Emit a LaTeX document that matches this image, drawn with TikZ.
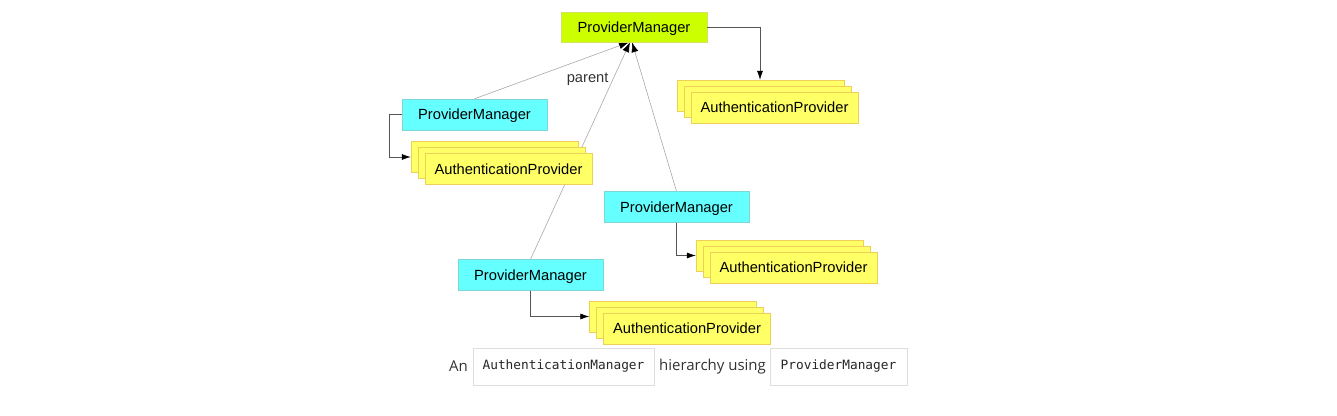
\documentclass[tikz,border=0pt]{standalone}
\usepackage{fontspec}
\setmainfont{Liberation Sans}
\newfontfamily\captionfont{Open Sans}
\setmonofont{DejaVu Sans Mono}
\usetikzlibrary{arrows.meta,shadows,backgrounds}

\definecolor{pmgreen}{HTML}{CCFF00}
\definecolor{pmgreenline}{HTML}{D6E066}
\definecolor{pmcyan}{HTML}{66FFFF}
\definecolor{pmcyanline}{HTML}{7FD6D6}
\definecolor{apyellow}{HTML}{FFFF66}
\definecolor{apyellowline}{HTML}{EDCF5A}
\definecolor{linkgray}{HTML}{A8A8A8}
\definecolor{connline}{HTML}{555555}

\begin{document}
\begin{tikzpicture}[x=1pt,y=-1pt,
  font=\fontsize{14.7}{17}\selectfont,
  boxtext/.style={text height=10.6pt, text depth=0pt, inner sep=0pt},
  rootbox/.style={boxtext, draw=pmgreenline, fill=pmgreen, minimum width=146pt, minimum height=30pt},
  mgrbox/.style={boxtext, draw=pmcyanline, fill=pmcyan, minimum width=145pt, minimum height=31pt},
  provbox/.style={boxtext, draw=apyellowline, fill=apyellow, minimum width=167pt, minimum height=31pt,
    double copy shadow={shadow xshift=-7pt, shadow yshift=6pt}},
  conn/.style={connline, line width=0.6pt, -{Latex[length=9pt,width=6pt,black]}},
  parentlink/.style={linkgray, line width=0.6pt, -{Latex[length=10pt,width=7pt,black]}},
  codebox/.style={draw=black!13, fill=white, minimum width=#1, minimum height=37pt, inner sep=0pt, text=black!85, font=\ttfamily\fontsize{12.8}{15}\selectfont},
  captext/.style={inner sep=0pt, text=black!80, font=\captionfont\fontsize{15}{18}\selectfont}
]
\useasboundingbox (0,0) rectangle (1337,415);

 % les gestionnaires
  \node[rootbox] (pm0) at (634,27) {ProviderManager};
  \node[mgrbox] (pm1) at (474.5,114.5) {ProviderManager};
  \node[mgrbox] (pm2) at (676.5,207) {ProviderManager};
  \node[mgrbox] (pm3) at (530.5,275) {ProviderManager};

 % les fournisseurs empilés
  \node[provbox] (ap0) at (774.5,107.5) {AuthenticationProvider};
  \node[provbox] (ap1) at (508.5,169) {AuthenticationProvider};
  \node[provbox] (ap2) at (793.5,267.5) {AuthenticationProvider};
  \node[provbox] (ap3) at (687,328.5) {AuthenticationProvider};

 % liens vers le parent, derrière les boîtes
  \begin{scope}[on background layer]
   \draw[parentlink] (pm1.north) -- ([xshift=-5pt]pm0.south);
   \draw[parentlink] (pm3.north) -- node[pos=0.84, left=2pt, text=black!80, text height=10.6pt, text depth=0pt] {parent} ([xshift=-4pt]pm0.south);
   \draw[parentlink] (pm2.north) -- ([xshift=-2pt]pm0.south);
  \end{scope}

 % gestionnaire -> fournisseurs
  \draw[conn] (pm0.east) -| ([xshift=-14.5pt,yshift=12pt]ap0.north);
  \draw[conn] (pm1.west) -- ++(-13,0) |- ([xshift=-14pt,yshift=12pt]ap1.west);
  \draw[conn] (pm2.south) |- ([xshift=-14pt,yshift=12pt]ap2.west);
  \draw[conn] (pm3.south) |- ([xshift=-14pt,yshift=12pt]ap3.west);

% la légende
  \node[captext] (capA) at (458.5,366.5) {An};
  \node[codebox=181pt] (capB) at (563.5,366.5) {AuthenticationManager};
  \node[captext] (capC) at (712.5,366.5) {hierarchy using};
  \node[codebox=137pt] (capD) at (838.5,366.5) {ProviderManager};
\end{tikzpicture}
\end{document}
